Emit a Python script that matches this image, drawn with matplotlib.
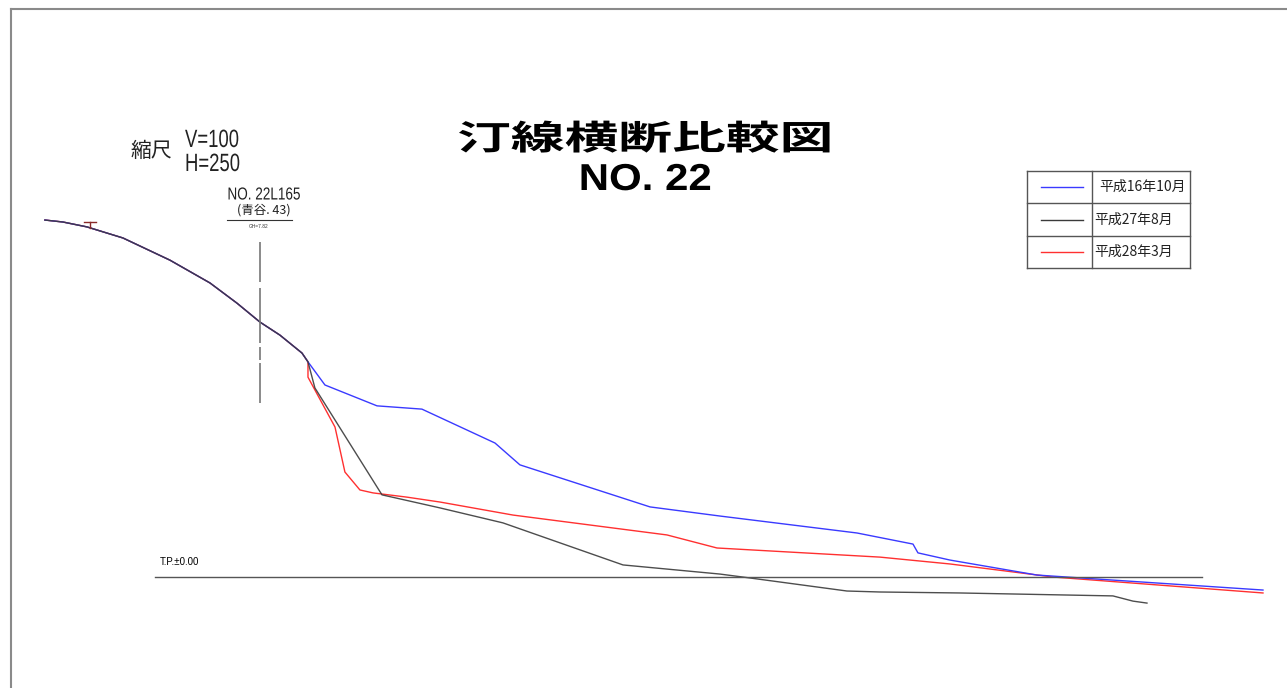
import matplotlib
matplotlib.use("Agg")
import matplotlib.pyplot as plt
from matplotlib.patheffects import AbstractPathEffect
from matplotlib.transforms import Affine2D

W, H = 1287, 688

# 追加距離 (m, 杭 NO.22L165 を 0) と 標高 (T.P. m)
upper_dist = [-16.48, -15.10, -13.26, -10.50, -6.90, -3.83, -1.76, 0.00, 1.53, 3.22, 3.68]
upper_elev = [10.95, 10.89, 10.74, 10.40, 9.72, 9.02, 8.40, 7.82, 7.42, 6.87, 6.60]

h16_dist = [4.98, 8.97, 12.41, 18.01, 19.92, 29.89, 35.25, 45.75, 50.04, 50.42, 52.87, 59.54, 76.86]
h16_elev = [5.89, 5.25, 5.15, 4.11, 3.44, 2.15, 1.87, 1.35, 1.01, 0.74, 0.52, 0.06, -0.40]

h27_dist = [4.21, 9.35, 13.79, 18.62, 27.82, 35.25, 37.55, 44.98, 47.51, 53.64, 65.36, 66.90, 67.97]
h27_elev = [5.80, 2.52, 2.12, 1.66, 0.37, 0.09, -0.03, -0.43, -0.46, -0.49, -0.58, -0.74, -0.80]

h28_dist = [3.68, 5.75, 6.51, 7.66, 8.66, 11.26, 13.79, 19.39, 31.19, 35.02, 47.51, 52.87, 60.77, 76.86]
h28_elev = [6.13, 4.60, 3.22, 2.67, 2.58, 2.45, 2.30, 1.90, 1.29, 0.89, 0.61, 0.40, 0.00, -0.49]

series_labels = ["平成16年10月", "平成27年8月", "平成28年3月"]
series_colors = ["#3a3aff", "#3a3a3a", "#ff3030"]

gh = 7.82
tp_zero = 0.00


class Stretch(AbstractPathEffect):
    """Scale a text path horizontally about a fixed display point."""

    def __init__(self, sx, cx, cy, sy=1.0):
        super().__init__()
        self.sx, self.sy, self.cx, self.cy = sx, sy, cx, cy

    def draw_path(self, renderer, gc, tpath, affine, rgbFace=None):
        extra = Affine2D().translate(-self.cx, -self.cy).scale(self.sx, self.sy).translate(self.cx, self.cy)
        renderer.draw_path(gc, tpath, affine + extra, rgbFace)


def put(px, py, s, ha="center", va="center", sx=1.0, **kw):
    t = fig.text(px / W, 1 - py / H, s, ha=ha, va=va, **kw)
    if sx != 1.0:
        t.set_path_effects([Stretch(sx, px, H - py)])
    return t


fig = plt.figure(figsize=(W / 100, H / 100), dpi=100)
fig.patch.set_facecolor("white")

ax = fig.add_axes([0, 0, 1, 1])
ax.set_xlim(-19.92, 78.70)
ax.set_ylim(-3.405, 17.70)
ax.axis("off")

# 断面線 (H28 → H16 → H27 の順に重ねる)
profiles = {
    0: (h16_dist, h16_elev),
    1: (h27_dist, h27_elev),
    2: (h28_dist, h28_elev),
}
for i in [2, 0, 1]:
    dist, elev = profiles[i]
    ax.plot(upper_dist + dist, upper_elev + elev, color=series_colors[i], lw=1.0,
            alpha=0.9 if i == 1 else 1.0, solid_joinstyle="round")

# T.P.±0.00 基準線
ax.plot([-8.05, 72.18], [tp_zero, tp_zero], color="#555555", lw=1.0)
put(160, 562, "T.P.±0.00", ha="left", fontsize=7, family=["Liberation Sans", "DejaVu Sans"])

# 杭位置の中心線
ax.plot([0, 0], [10.28, 5.34], color="#777777", lw=1.2,
        linestyle=(0, (24, 3.6, 33, 2.4, 7.8, 1.8, 24, 40)))

# 天端記号
ax.plot([-13.49, -12.57], [10.89, 10.89], color="#8a2a2a", lw=1.0)
ax.plot([-13.03, -13.03], [10.89, 10.70], color="#8a2a2a", lw=1.0)

# 杭の注記
cjk = ["Noto Sans CJK JP", "DejaVu Sans"]
put(264, 195, "NO. 22L165", fontsize=12.5, sx=0.78, family=["Liberation Sans", "DejaVu Sans"], color="#222222")
put(264, 210, "(青谷. 43)", fontsize=9, family=cjk, color="#222222")
fig.add_artist(plt.Line2D([227 / W, 292 / W], [1 - 220 / H, 1 - 220 / H], color="#333333", lw=0.8))
put(259, 227, f"GH={gh:.2f}", fontsize=3.5, family=["Liberation Sans", "DejaVu Sans"], color="#333333")

# 縮尺
put(151, 151, "縮尺", fontsize=15, family=cjk, color="#222222")
put(185, 140, "V=100", ha="left", fontsize=18, sx=0.74, family=["Liberation Sans", "DejaVu Sans"], color="#222222")
put(185, 164, "H=250", ha="left", fontsize=18, sx=0.74, family=["Liberation Sans", "DejaVu Sans"], color="#222222")

# 表題
put(645, 139, "汀線横断比較図", fontsize=24.5, sx=1.58, family=cjk, weight="bold", color="black")
put(645, 180, "NO. 22", fontsize=27, sx=1.12, family=["Liberation Sans", "DejaVu Sans"], weight="bold", color="black")

# 凡例表
box_l, box_r, box_t, box_b, div_x = 1027, 1190, 171, 268, 1092
row_h = (box_b - box_t) / 3
edge = "#555555"
for y in [box_t, box_t + row_h, box_t + 2 * row_h, box_b]:
    fig.add_artist(plt.Line2D([box_l / W, box_r / W], [1 - y / H, 1 - y / H], color=edge, lw=1.0))
for x in [box_l, div_x, box_r]:
    fig.add_artist(plt.Line2D([x / W, x / W], [1 - box_t / H, 1 - box_b / H], color=edge, lw=1.0))
for i, (lab, color) in enumerate(zip(series_labels, series_colors)):
    yc = box_t + row_h * (i + 0.5)
    fig.add_artist(plt.Line2D([1041 / W, 1083 / W], [1 - yc / H, 1 - yc / H], color=color, lw=1.0))
    put(1099 if i == 0 else 1094, yc, lab, ha="left", fontsize=10, family=cjk, color="#222222")

# 図枠
fig.add_artist(plt.Line2D([11 / W, 1.0], [1 - 9 / H, 1 - 9 / H], color="#8a8a8a", lw=1.5))
fig.add_artist(plt.Line2D([11 / W, 11 / W], [1 - 9 / H, 0.0], color="#8a8a8a", lw=1.5))

fig.savefig("out.png", dpi=100, facecolor="white")
